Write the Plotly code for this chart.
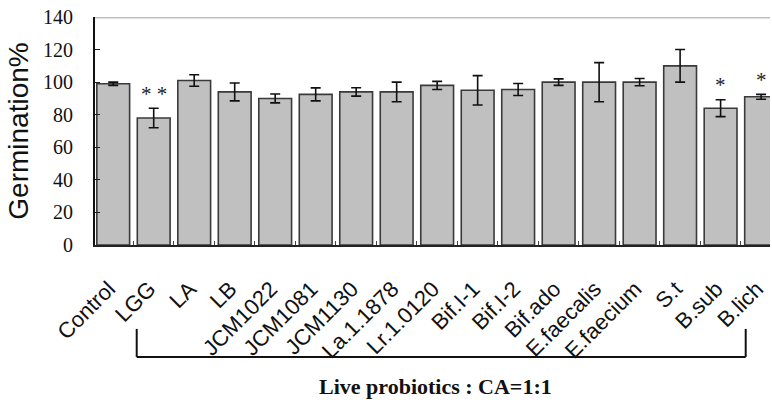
import plotly.graph_objects as go

categories = ["Control", "LGG", "LA", "LB", "JCM1022", "JCM1081", "JCM1130",
              "La.1.1878", "Lr.1.0120", "Bif.I-1", "Bif.I-2", "Bif.ado",
              "E.faecalis", "E.faecium", "S.t", "B.sub", "B.lich"]
germination = [99, 78, 101, 94, 90, 92.5, 94, 94, 98, 95, 95.5, 100, 100, 100, 110, 84, 91]
errors = [1, 6, 3.5, 5.5, 2.7, 4, 2.6, 6, 2.5, 9, 3.7, 2, 12, 2.2, 10, 5.2, 1.5]
significance = ["", "* *", "", "", "", "", "", "", "", "", "", "", "", "", "", "*", "*"]
y_ticks = [0, 20, 40, 60, 80, 100, 120, 140]

fig = go.Figure()
fig.add_trace(go.Bar(
    x=categories, y=germination,
    marker=dict(color="#c0c0c0", line=dict(color="#3a3a3a", width=1.6)),
    error_y=dict(type="data", array=errors, visible=True,
                 color="#111111", thickness=1.6, width=5),
    showlegend=False,
))

annotations = []
for i, s in enumerate(significance):
    if s:
        annotations.append(dict(
            x=i, y=germination[i] + errors[i] + 9, xref="x", yref="y",
            text=s, showarrow=False, yanchor="middle",
            font=dict(family="Liberation Serif", size=21, color="#222222")))

annotations.append(dict(
    x=0.505, y=-0.62, xref="paper", yref="paper",
    text="<b>Live probiotics : CA=1:1</b>", showarrow=False,
    xanchor="center", yanchor="middle",
    font=dict(family="Liberation Serif", size=22, color="#111111")))

shapes = [
    # top frame line
    dict(type="line", xref="paper", yref="y", x0=0, x1=1, y0=140, y1=140,
         line=dict(color="#c0c0c0", width=3)),
    # bracket
    dict(type="line", xref="x", yref="paper", x0=0.58, x1=0.58, y0=-0.368, y1=-0.491,
         line=dict(color="#111111", width=2)),
    dict(type="line", xref="x", yref="paper", x0=0.58, x1=15.62, y0=-0.491, y1=-0.491,
         line=dict(color="#111111", width=2)),
    dict(type="line", xref="x", yref="paper", x0=15.62, x1=15.62, y0=-0.368, y1=-0.491,
         line=dict(color="#111111", width=2)),
]

fig.update_layout(
    width=772, height=402,
    margin=dict(l=95, r=0, t=17, b=157),
    paper_bgcolor="white", plot_bgcolor="white",
    bargap=0.19,
    annotations=annotations,
    shapes=shapes,
    xaxis=dict(
        type="category",
        range=[-0.45, 16.22],
        tickmode="array", tickvals=categories,
        ticktext=[c + "\u00a0" for c in categories],
        tickangle=-45,
        tickfont=dict(family="Liberation Sans", size=22, color="#111111"),
        showline=True, linecolor="#222222", linewidth=2,
        ticks="inside", tickson="boundaries", ticklen=4, tickcolor="#444444",
        showgrid=False, zeroline=False,
        ticklabelstandoff=16, ticklabeloverflow="allow",
    ),
    yaxis=dict(
        range=[0, 140],
        tickmode="array", tickvals=y_ticks,
        tickfont=dict(family="Liberation Serif", size=20, color="#111111"),
        ticks="inside", ticklen=5, tickcolor="#222222", tickwidth=1,
        showline=True, linecolor="#111111", linewidth=2,
        showgrid=False, zeroline=False,
        ticklabelstandoff=16,
        tickprefix="<b>", ticksuffix="</b>",
        title=dict(text="Germination%", standoff=6,
                   font=dict(family="Liberation Sans", size=28, color="#111111")),
    ),
)

fig.write_html("out.html")
